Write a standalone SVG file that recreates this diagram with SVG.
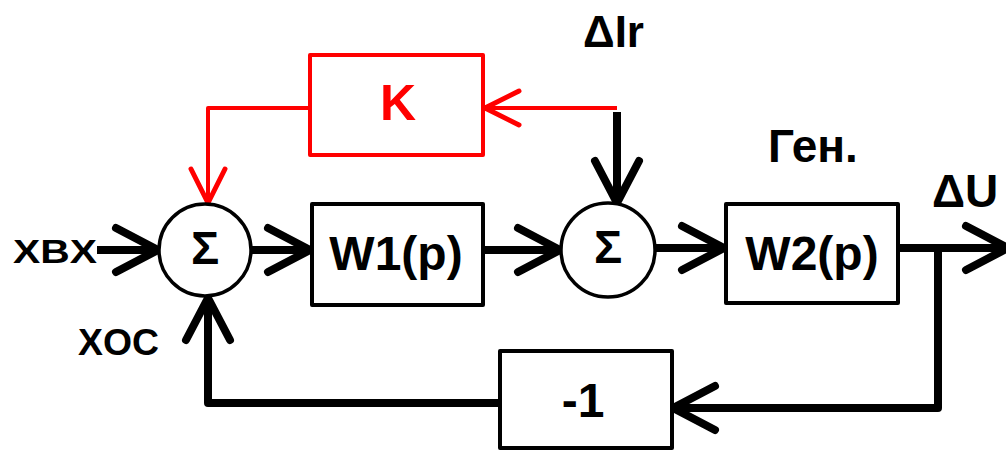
<svg xmlns="http://www.w3.org/2000/svg" width="1006" height="452" viewBox="0 0 1006 452">
<style>
.blk{fill:#fff;stroke:#000;stroke-width:4;stroke-linejoin:round}
.red{fill:#fff;stroke:#f00;stroke-width:4;stroke-linejoin:round}
.sum{fill:#fff;stroke:#000;stroke-width:3.5}
.w{stroke:#000;stroke-width:8;fill:none;stroke-linejoin:round;stroke-linecap:butt}
.r{stroke:#f00;stroke-width:4;fill:none;stroke-linejoin:round}
text{font-family:"Liberation Sans",Arial,sans-serif;font-weight:bold;fill:#000}
</style>
<defs>
<marker id="ah" markerUnits="userSpaceOnUse" markerWidth="80" markerHeight="80" viewBox="-60 -40 80 80" refX="0" refY="0" orient="auto" overflow="visible">
<path d="M-42,-22 L0,0 L-42,22" fill="none" stroke="#000" stroke-width="8" stroke-linecap="round" stroke-linejoin="round"/>
</marker>
<marker id="ahr" markerUnits="userSpaceOnUse" markerWidth="80" markerHeight="80" viewBox="-60 -40 80 80" refX="0" refY="0" orient="auto" overflow="visible">
<path d="M-34,-17 L0,0 L-34,17" fill="none" stroke="#f00" stroke-width="5" stroke-linecap="round" stroke-linejoin="round"/>
</marker>
</defs>
<g id="connectors">
<path class="w" d="M97,250 H158" marker-end="url(#ah)"/>
<path class="w" d="M251,250 H310" marker-end="url(#ah)"/>
<path class="w" d="M483,250 H560" marker-end="url(#ah)"/>
<path class="w" d="M655,248 H724" marker-end="url(#ah)"/>
<path class="w" d="M899,248 H1008" marker-end="url(#ah)"/>
<path class="w" d="M938,248 V408 H673" marker-end="url(#ah)"/>
<path class="w" d="M500,403 H208 V298" marker-end="url(#ah)"/>
<path class="w" d="M617,112 V203" marker-end="url(#ah)"/>
<path class="r" d="M617,108 H485" marker-end="url(#ahr)"/>
<path class="r" d="M310,108 H208 V203" marker-end="url(#ahr)"/>
</g>
<g id="sum1"><circle class="sum" cx="205" cy="250" r="46"/><text x="205" y="264" font-size="47" text-anchor="middle">Σ</text></g>
<g id="sum2"><circle class="sum" cx="608" cy="250" r="47"/><text x="608" y="263" font-size="47" text-anchor="middle">Σ</text></g>
<g id="W1"><rect class="blk" x="312" y="204" width="171" height="101"/><text x="396" y="270" font-size="48" text-anchor="middle">W1(p)</text></g>
<g id="W2"><rect class="blk" x="726" y="204" width="172" height="99"/><text x="812" y="270" font-size="48" text-anchor="middle">W2(p)</text></g>
<g id="K"><rect class="red" x="310" y="55" width="173" height="100"/><text x="398" y="120" font-size="50" text-anchor="middle" style="fill:#f00">K</text></g>
<g id="neg"><rect class="blk" x="500" y="351" width="172" height="97"/><text x="583" y="417" font-size="48" text-anchor="middle">-1</text></g>
<g id="labels">
<text x="13" y="263" font-size="34" textLength="84" lengthAdjust="spacingAndGlyphs">XBX</text>
<text x="78" y="355" font-size="36" textLength="81" lengthAdjust="spacingAndGlyphs">XOC</text>
<text x="583" y="47" font-size="44">ΔIr</text>
<text x="768" y="162" font-size="46">Ген.</text>
<text x="932" y="207" font-size="46">ΔU</text>
</g>
</svg>
